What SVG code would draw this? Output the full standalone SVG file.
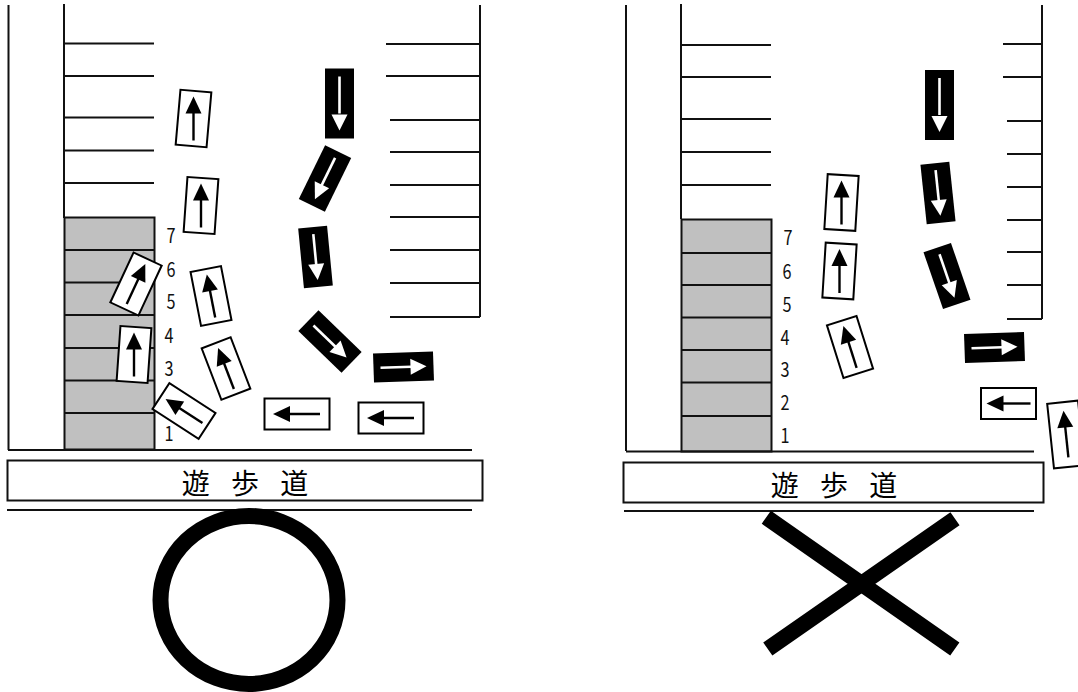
<svg xmlns="http://www.w3.org/2000/svg" width="1078" height="692" viewBox="0 0 1078 692">
<style>
.l{stroke:#111;stroke-width:2;fill:none}
.g{fill:#c0c0c0;stroke:#111;stroke-width:2}
.w{fill:#fff;stroke:#000;stroke-width:2}
.b{fill:#000}
.as{stroke:#000;stroke-width:2.400;fill:none}
.bs{stroke:#fff;stroke-width:2.600;fill:none}
.n{font-family:"Noto Sans CJK JP","Liberation Sans",sans-serif;font-size:20px;fill:#111;text-anchor:middle}
.k{font-family:"Noto Sans CJK JP","Liberation Sans",sans-serif;font-size:28px;font-weight:400;fill:#000;text-anchor:middle;word-spacing:15px}
</style>
<defs>
<rect id="body55" class="w" x="-15.500" y="-27.500" width="31" height="55"/>
<g id="arrow55"><path class="as" d="M0-8V22"/><path d="M0-22L8-5H-8Z"/></g>
<g id="white55"><use href="#body55"/><use href="#arrow55"/></g>
<g id="white65"><rect class="w" x="-15.500" y="-32.500" width="31" height="65"/><path class="as" d="M0-12V23"/><path d="M0-24L8-7H-8Z"/></g>
<g id="black60"><rect class="b" x="-14.500" y="-30" width="29" height="60"/><path class="bs" d="M0-8V23"/><path fill="#fff" d="M0-23L8-7H-8Z"/></g>
<g id="black70"><rect class="b" x="-14.500" y="-35" width="29" height="70"/><path class="bs" d="M0-10V27"/><path fill="#fff" d="M0-27L8-11H-8Z"/></g>
</defs>
<g id="left-lot">
<path class="l" d="M8.500 5V450M64 4V218"/>
<path class="l" d="M64 43.500H154M64 76H154M64 117.500H154M64 150.500H154M64 183H154"/>
<path class="l" d="M480 5V317M386 44H480M386 76H480M390 120H480M390 152H480M390 185H480M390 217H480M390 250H480M390 283H480M390 317H480"/>
<rect class="g" x="64.500" y="217.500" width="90" height="232"/>
<path class="l" d="M64 250H154M64 282.500H154M64 315H154M64 348H154M64 380.500H154M64 413H154"/>
<path class="l" d="M8 450H472"/>
</g>
<g id="left-walkway"><rect class="l" x="7.500" y="460.500" width="475" height="40"/><path class="l" d="M7 510H472"/><text class="k" x="245" y="494">遊 歩 道</text></g>
<g id="left-numbers">
<text class="n" x="171" y="243" textLength="9" lengthAdjust="spacingAndGlyphs">7</text>
<text class="n" x="171" y="277" textLength="9" lengthAdjust="spacingAndGlyphs">6</text>
<text class="n" x="171" y="309" textLength="9" lengthAdjust="spacingAndGlyphs">5</text>
<text class="n" x="169" y="343" textLength="9" lengthAdjust="spacingAndGlyphs">4</text>
<text class="n" x="169" y="376" textLength="9" lengthAdjust="spacingAndGlyphs">3</text>
<text class="n" x="169" y="441" textLength="9" lengthAdjust="spacingAndGlyphs">1</text>
</g>
<g id="left-cars">
<g transform="translate(193.500 118.500)"><use href="#body55" transform="rotate(5)"/><use href="#arrow55"/></g>
<g transform="translate(201 205.500)"><use href="#body55" transform="rotate(4)"/><use href="#arrow55"/></g>
<use href="#white55" transform="translate(136 284) rotate(25)"/>
<g transform="translate(134 354.500)"><use href="#body55" transform="rotate(4)"/><use href="#arrow55"/></g>
<use href="#white55" transform="translate(211 296) rotate(-11)"/>
<use href="#white55" transform="translate(226 368.500) rotate(-21)"/>
<use href="#white55" transform="translate(184 411) rotate(-57)"/>
<use href="#white65" transform="translate(297 414) rotate(-90)"/>
<use href="#white65" transform="translate(391 418) rotate(-90)"/>
<use href="#black70" transform="translate(339.500 103.500) rotate(180)"/>
<use href="#black60" transform="translate(325 178.500) rotate(206)"/>
<use href="#black60" transform="translate(315.500 257) rotate(174.500)"/>
<use href="#black60" transform="translate(330 341.500) rotate(134)"/>
<use href="#black60" transform="translate(403.500 367) rotate(88)"/>
</g>
<ellipse id="circle" cx="249" cy="600" rx="88.500" ry="84" fill="none" stroke="#000" stroke-width="16"/>
<g id="right-lot">
<path class="l" d="M626 5V451M681 4V219"/>
<path class="l" d="M681 45H771M681 77H771M681 119H771M681 152H771M681 185H771"/>
<path class="l" d="M1042 5V319M1003 44H1042M1003 77H1042M1007 121H1042M1007 154H1042M1007 187H1042M1007 220H1042M1007 252H1042M1007 285H1042M1007 319H1042"/>
<rect class="g" x="681.500" y="219.500" width="90" height="232"/>
<path class="l" d="M681 253H771M681 285H771M681 317.500H771M681 350H771M681 382.500H771M681 416H771"/>
<path class="l" d="M626 451.500H1034"/>
</g>
<g id="right-walkway"><rect class="l" x="623.500" y="462.500" width="420" height="40"/><path class="l" d="M624 511H1034"/><text class="k" x="834" y="496">遊 歩 道</text></g>
<g id="right-numbers">
<text class="n" x="788" y="245" textLength="9" lengthAdjust="spacingAndGlyphs">7</text>
<text class="n" x="787" y="279" textLength="9" lengthAdjust="spacingAndGlyphs">6</text>
<text class="n" x="787" y="312" textLength="9" lengthAdjust="spacingAndGlyphs">5</text>
<text class="n" x="785" y="345" textLength="9" lengthAdjust="spacingAndGlyphs">4</text>
<text class="n" x="785" y="377" textLength="9" lengthAdjust="spacingAndGlyphs">3</text>
<text class="n" x="785" y="410" textLength="9" lengthAdjust="spacingAndGlyphs">2</text>
<text class="n" x="785" y="443" textLength="9" lengthAdjust="spacingAndGlyphs">1</text>
</g>
<g id="right-cars">
<g transform="translate(841.500 202.500)"><use href="#body55" transform="rotate(3.500)"/><use href="#arrow55"/></g>
<g transform="translate(839.500 271)"><use href="#body55" transform="rotate(3.500)"/><use href="#arrow55"/></g>
<use href="#white55" transform="translate(850 347) rotate(-17.500)"/>
<use href="#white55" transform="translate(1008.500 403.500) rotate(-90)"/>
<use href="#white65" transform="translate(1066 434.500) rotate(-6)"/>
<use href="#black70" transform="translate(939.500 105) rotate(180)"/>
<use href="#black60" transform="translate(938 193) rotate(174)"/>
<use href="#black60" transform="translate(947 276) rotate(161)"/>
<use href="#black60" transform="translate(994.500 347.500) rotate(88)"/>
</g>
<path id="cross" d="M766.300 517.200L954.800 649M955 518.800L767.800 649" fill="none" stroke="#000" stroke-width="16"/>
</svg>
